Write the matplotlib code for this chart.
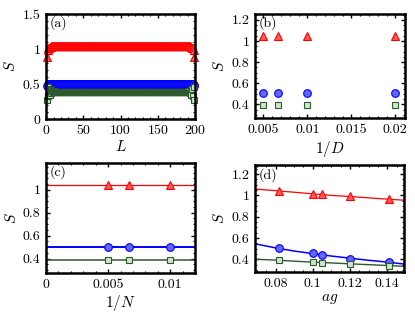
import matplotlib
matplotlib.use('Agg')
import matplotlib.pyplot as plt
import matplotlib.ticker as ticker
import numpy as np

plt.rcParams['font.family'] = 'serif'
plt.rcParams['font.serif'] = ['cmr10', 'DejaVu Serif']
plt.rcParams['mathtext.fontset'] = 'cm'
plt.rcParams['axes.unicode_minus'] = False

L_max = 199
red_edge = [0.88, 0.99, 1.01, 1.02, 1.03, 1.035, 1.04, 1.04, 1.045]
red_bulk = 1.05
blue_edge = [0.47, 0.49, 0.50, 0.50, 0.505]
blue_bulk = 0.505
green_edge = [0.27, 0.46, 0.33, 0.43, 0.35, 0.41, 0.37, 0.40, 0.38, 0.395]
green_bulk = 0.39

# ---- panel (b): S vs 1/D ----
invD = [0.005, 0.00667, 0.01, 0.02]
S_red_b = [1.05, 1.05, 1.05, 1.05]
S_blue_b = [0.505, 0.505, 0.505, 0.505]
S_green_b = [0.39, 0.39, 0.39, 0.39]

# ---- panel (c): S vs 1/N, with extrapolation lines ----
invN = [0.005, 0.00667, 0.01]
S_red_c = [1.045, 1.045, 1.045]
S_blue_c = [0.505, 0.505, 0.505]
S_green_c = [0.39, 0.39, 0.39]
fit_x_c = [0.0, 0.012]
fit_red_c = [1.045, 1.045]
fit_blue_c = [0.505, 0.505]
fit_green_c = [0.39, 0.39]

# ---- panel (d): S vs ag, with fits ----
ag = [0.082, 0.1, 0.105, 0.12, 0.141]
S_red_d = [1.04, 1.01, 1.01, 0.99, 0.965]
S_blue_d = [0.505, 0.455, 0.44, 0.405, 0.37]
S_green_d = [0.39, 0.37, 0.365, 0.355, 0.335]
fit_x_d = [0.069, 0.08, 0.09, 0.1, 0.11, 0.12, 0.13, 0.14, 0.149]
fit_red_d = [1.06, 1.045, 1.03, 1.015, 1.0, 0.99, 0.977, 0.965, 0.955]
fit_blue_d = [0.545, 0.507, 0.477, 0.453, 0.43, 0.41, 0.39, 0.373, 0.355]
fit_green_d = [0.40, 0.392, 0.382, 0.373, 0.365, 0.357, 0.349, 0.341, 0.334]


def build(edge, bulk):
    n_mid = L_max - 2 * len(edge)
    return edge + [bulk] * n_mid + edge[::-1]


sites = np.arange(1, L_max + 1)
S_red_a = build(red_edge, red_bulk)
S_blue_a = build(blue_edge, blue_bulk)
S_green_a = build(green_edge, green_bulk)

red = '#ff0000'
red_fill = '#ff5a5a'
blue = '#0000ff'
blue_fill = '#6464ff'
green = '#2d5a2d'
green_fill = '#cfe5cf'

tri = dict(marker='^', ls='none', mec=red, mfc=red_fill, ms=6, mew=0.8)
cir = dict(marker='o', ls='none', mec=blue, mfc=blue_fill, ms=5.5, mew=0.8)
sqr = dict(marker='s', ls='none', mec=green, mfc=green_fill, ms=4.5, mew=0.8)

fig = plt.figure(figsize=(4.15, 3.2), dpi=100)
ax_a = fig.add_axes([0.111, 0.628, 0.359, 0.328])
ax_b = fig.add_axes([0.6145, 0.631, 0.3614, 0.325])
ax_c = fig.add_axes([0.111, 0.147, 0.359, 0.344])
ax_d = fig.add_axes([0.6145, 0.15, 0.359, 0.334])

fmt = ticker.FuncFormatter(lambda v, p: '%g' % round(v, 6))


def style(ax, label):
    for s in ax.spines.values():
        s.set_linewidth(1.8)
    ax.tick_params(which='both', direction='in', top=True, right=True,
                   labelsize=10, pad=4)
    ax.tick_params(which='major', length=3, width=1)
    ax.tick_params(which='minor', length=1.5, width=0.8)
    ax.minorticks_on()
    ax.xaxis.set_major_formatter(fmt)
    ax.yaxis.set_major_formatter(fmt)
    ax.set_ylabel('$S$', fontsize=11, labelpad=3)
    ax.text(0.025, 0.975, label, transform=ax.transAxes, ha='left', va='top',
            fontsize=10)


# (a)
ax_a.plot(sites, S_red_a, clip_on=False, **tri)
ax_a.plot(sites, S_blue_a, clip_on=False, **cir)
ax_a.plot(sites, S_green_a, clip_on=False, **sqr)
ax_a.set_xlim(0, 200)
ax_a.set_ylim(0, 1.5)
ax_a.set_xticks([0, 50, 100, 150, 200])
ax_a.set_yticks([0, 0.5, 1, 1.5])
ax_a.set_xlabel('$L$', fontsize=11, labelpad=2)
style(ax_a, '(a)')

# (b)
ax_b.plot(invD, S_red_b, **tri)
ax_b.plot(invD, S_blue_b, **cir)
ax_b.plot(invD, S_green_b, **sqr)
ax_b.set_xlim(0.00405, 0.0211)
ax_b.set_ylim(0.27, 1.255)
ax_b.set_xticks([0.005, 0.01, 0.015, 0.02])
ax_b.set_yticks([0.4, 0.6, 0.8, 1, 1.2])
ax_b.set_xlabel('$1/D$', fontsize=11, labelpad=2)
style(ax_b, '(b)')

# (c)
ax_c.plot(fit_x_c, fit_red_c, color=red, lw=0.9)
ax_c.plot(fit_x_c, fit_blue_c, color=blue, lw=1.4)
ax_c.plot(fit_x_c, fit_green_c, color=green, lw=1.1)
ax_c.plot(invN, S_red_c, **tri)
ax_c.plot(invN, S_blue_c, **cir)
ax_c.plot(invN, S_green_c, **sqr)
ax_c.set_xlim(0, 0.012)
ax_c.set_ylim(0.275, 1.235)
ax_c.set_xticks([0, 0.005, 0.01])
ax_c.set_yticks([0.4, 0.6, 0.8, 1])
ax_c.set_xlabel('$1/N$', fontsize=11, labelpad=2)
style(ax_c, '(c)')

# (d)
ax_d.plot(fit_x_d, fit_red_d, color=red, lw=0.9)
ax_d.plot(fit_x_d, fit_blue_d, color=blue, lw=1.1)
ax_d.plot(fit_x_d, fit_green_d, color=green, lw=1.0)
ax_d.plot(ag, S_red_d, **tri)
ax_d.plot(ag, S_blue_d, **cir)
ax_d.plot(ag, S_green_d, **sqr)
ax_d.set_xlim(0.069, 0.149)
ax_d.set_ylim(0.28, 1.285)
ax_d.set_xticks([0.08, 0.1, 0.12, 0.14])
ax_d.set_yticks([0.4, 0.6, 0.8, 1, 1.2])
ax_d.set_xlabel('$ag$', fontsize=11, labelpad=2)
style(ax_d, '(d)')

fig.savefig('out.png', dpi=100)
